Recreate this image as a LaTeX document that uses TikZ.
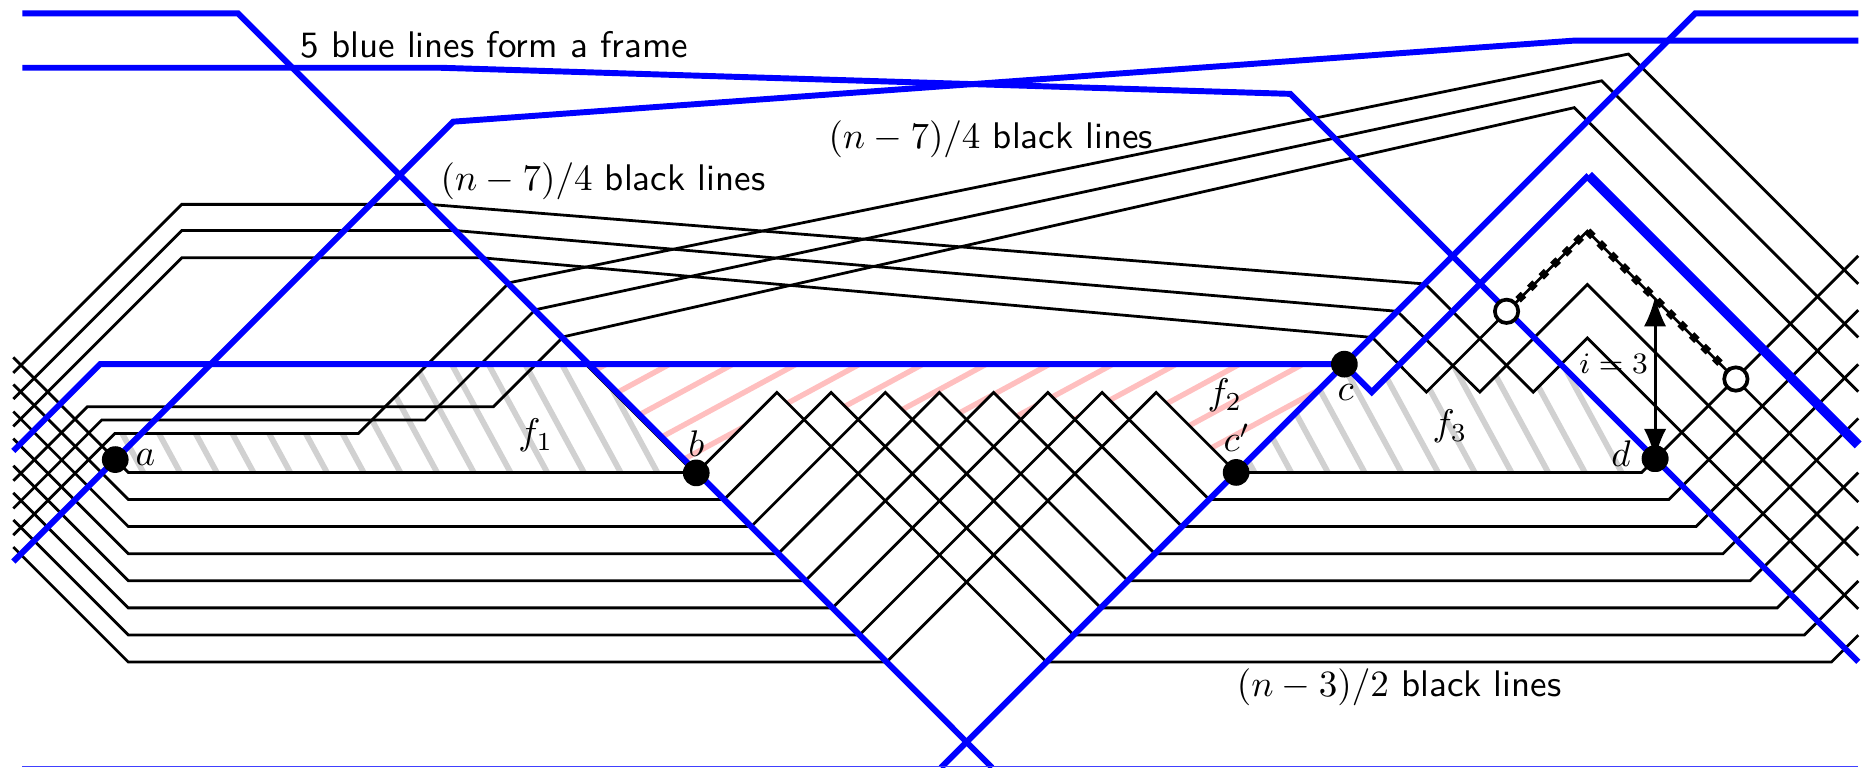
\documentclass[tikz,border=0pt]{standalone}
\usetikzlibrary{arrows.meta}
\begin{document}
\begin{tikzpicture}[x=0.3205pt,y=-0.3205pt,
  bl/.style={black,line width=0.75pt},
  blu/.style={blue,line width=1.6pt},
  blut/.style={blue,line width=2.6pt},
  dotb/.style={circle,fill=black,inner sep=0pt,minimum size=7.2pt},
  doto/.style={circle,draw=black,fill=white,line width=1pt,inner sep=0pt,minimum size=6.3pt},
  lab/.style={inner sep=0pt},
  gstripe/.style={black!18,line width=1.55pt},
  pstripe/.style={pink,line width=1.45pt},
  dashseg/.style={black,line width=2.1pt,dash pattern=on 2pt off 2.4pt},
  arr/.style={line width=0.85pt,{Latex[length=8pt,width=6pt]}-{Latex[length=8pt,width=6pt]}}]
\useasboundingbox (0,0) rectangle (1568,646);

% ---------- hatching ----------
% f1
\begin{scope}
\clip (100,364.8) -- (301.6,364.8) -- (359.9,306.5) -- (495.5,306.5) -- (586,397.6) -- (100,397.6) -- cycle;
\foreach \i in {-3,...,18} \draw[gstripe] (163.7+30.9*\i,420) -- ++(-76,-140);
\end{scope}
% f3
\begin{scope}
\clip (1040.4,397.6) -- (1131,306.5) -- (1154.5,330) -- (1177.5,307) -- (1200.5,330) -- (1222,308.5) -- (1245.5,330) -- (1267.7,308) -- (1290.5,330) -- (1313.8,306.8) -- (1393,386) -- (1381.8,397.6) -- cycle;
\foreach \i in {-4,...,12} \draw[gstripe] (1160.7+30.9*\i,420) -- ++(-76,-140);
\end{scope}
% f2
\begin{scope}
\clip (495.5,306.5) -- (1131,306.5) -- (1040.4,397.6)
  -- (973.1,330.3) -- (950.3,353.1) -- (927.5,330.3) -- (904.7,353.1)
  -- (881.9,330.3) -- (859.1,353.1) -- (836.3,330.3) -- (813.5,353.1)
  -- (790.7,330.3) -- (767.9,353.1) -- (745.1,330.3) -- (722.3,353.1)
  -- (699.5,330.3) -- (676.7,353.1) -- (653.9,330.3) -- (586,397.6) -- cycle;
\foreach \i in {-2,...,17} \draw[pstripe] (353.8+53.3*\i,420) -- ++(240.3,-130);
\end{scope}

% ---------- black lines ----------
% (n-7)/4 lines, group 1
\draw[bl] (11.2,313.8) -- (153,172) -- (361,172) -- (1199.5,239) -- (1290.5,330) -- (1336,284.5) -- (1564,512.5);
\draw[bl] (11.2,335.8) -- (153,194) -- (383,194) -- (1176,262) -- (1245.5,330) -- (1336,239.5) -- (1564,467.5);
\draw[bl] (11.2,358.8) -- (153,217) -- (406,217) -- (1155,284) -- (1200.5,330) -- (1336,194.5) -- (1564,422.5);
% (n-7)/4 lines, group 2
\draw[bl] (11.2,404.6) -- (73.5,342.3) -- (415.2,342.3) -- (474,283.5) -- (1325,90.6) -- (1564,329.6);
\draw[bl] (11.2,427.9) -- (85.6,353.5) -- (357.7,353.5) -- (450.5,260.7) -- (1348,68) -- (1564,284);
\draw[bl] (11.2,450.4) -- (96.8,364.8) -- (301.6,364.8) -- (428.4,238) -- (1370.5,45.5) -- (1564,239);
% (n-3)/2 lines
\foreach \k in {1,...,8} {
  \pgfmathsetmacro\yk{397.6+22.8*(\k-1)}
  \pgfmathsetmacro\yj{397.6+22.8*(8-\k)}
  \pgfmathsetmacro\px{813.5+22.8*(2*\k-9)}
  \pgfmathsetmacro\xr{1381.8+22.8*(8-\k)}
  \pgfmathsetmacro\ye{\yj-(1564-\xr)}
  \draw[bl] (11.2,\yk-96.8) -- (108,\yk) -- (\yk+189,\yk) -- (\px,330.3) -- (1438-\yj,\yj) -- (\xr,\yj) -- (1564,\ye);
}
% face border along the frame
\draw[bl] (493,306.5) -- (584,397.6);

% ---------- blue frame ----------
\draw[blu] (18.8,11.2) -- (200.3,11.2) -- (835,646);
\draw[blu] (18.8,57) -- (370,57) -- (1086,79) -- (1564,557);
\draw[blu] (11.2,472.6) -- (381.4,102.4) -- (1324.4,34.2) -- (1564,34.2);
\draw[blu] (1564,11.2) -- (1426.8,11.2) -- (792,646);
\draw[blu] (11.2,379.5) -- (84.2,306.5) -- (1131,306.5) -- (1154.5,330) -- (1337,147.5);
\draw[blut] (1337,147.5) -- (1564,374.5);
\draw[blue!75,line width=0.4pt] (18.8,645) -- (1564,645);

% ---------- dashed path, arrow ----------
\coordinate (o1c) at (1268,262);
\coordinate (o2c) at (1461,319);
\coordinate (pk) at (1336,194.5);
\coordinate (at) at (1393,249.7);
\draw[dashseg] (o1c) -- (pk) -- (o2c);
\node[dotb] (d) at (1393,386) {};
\draw[arr] (at) -- (d.center);
\node[dotb] (d2) at (1393,386) {};

% ---------- points ----------
\node[dotb] (a) at (97,386.8) {};
\node[dotb] (b) at (586,398) {};
\node[dotb] (cp) at (1040.4,397.6) {};
\node[dotb] (c) at (1131.5,306.5) {};
\node[doto] (o1) at (o1c) {};
\node[doto] (o2) at (o2c) {};

% ---------- labels ----------
\node[lab,anchor=base west] (t1) at (252,48.2) {\sffamily 5 blue lines form a frame};
\node[lab,anchor=base west] (t2) at (370.2,160.6) {$(n-7)/4$ \textsf{black lines}};
\node[lab,anchor=base west] (t3) at (696.7,124.6) {$(n-7)/4$ \textsf{black lines}};
\node[lab,anchor=base west] (t4) at (1040.4,586) {$(n-3)/2$ \textsf{black lines}};
\node[lab,anchor=base west] (la) at (113.6,391.4) {$a$};
\node[lab,anchor=base] (lb) at (586,384.4) {$b$};
\node[lab] (lf1) at (451,366.6) {$f_1$};
\node[lab] (lf2) at (1031,333) {$f_2$};
\node[lab,anchor=base] (lcp) at (1041,380) {$c'$};
\node[lab,anchor=base] (lc) at (1132.6,336.7) {$c$};
\node[lab] (lf3) at (1220.5,359) {$f_3$};
\node[lab,anchor=base] (ld) at (1364.3,392.8) {$d$};
\node[lab,anchor=base east,font=\footnotesize] (li) at (1387.5,314) {$i=3$};
\end{tikzpicture}
\end{document}
